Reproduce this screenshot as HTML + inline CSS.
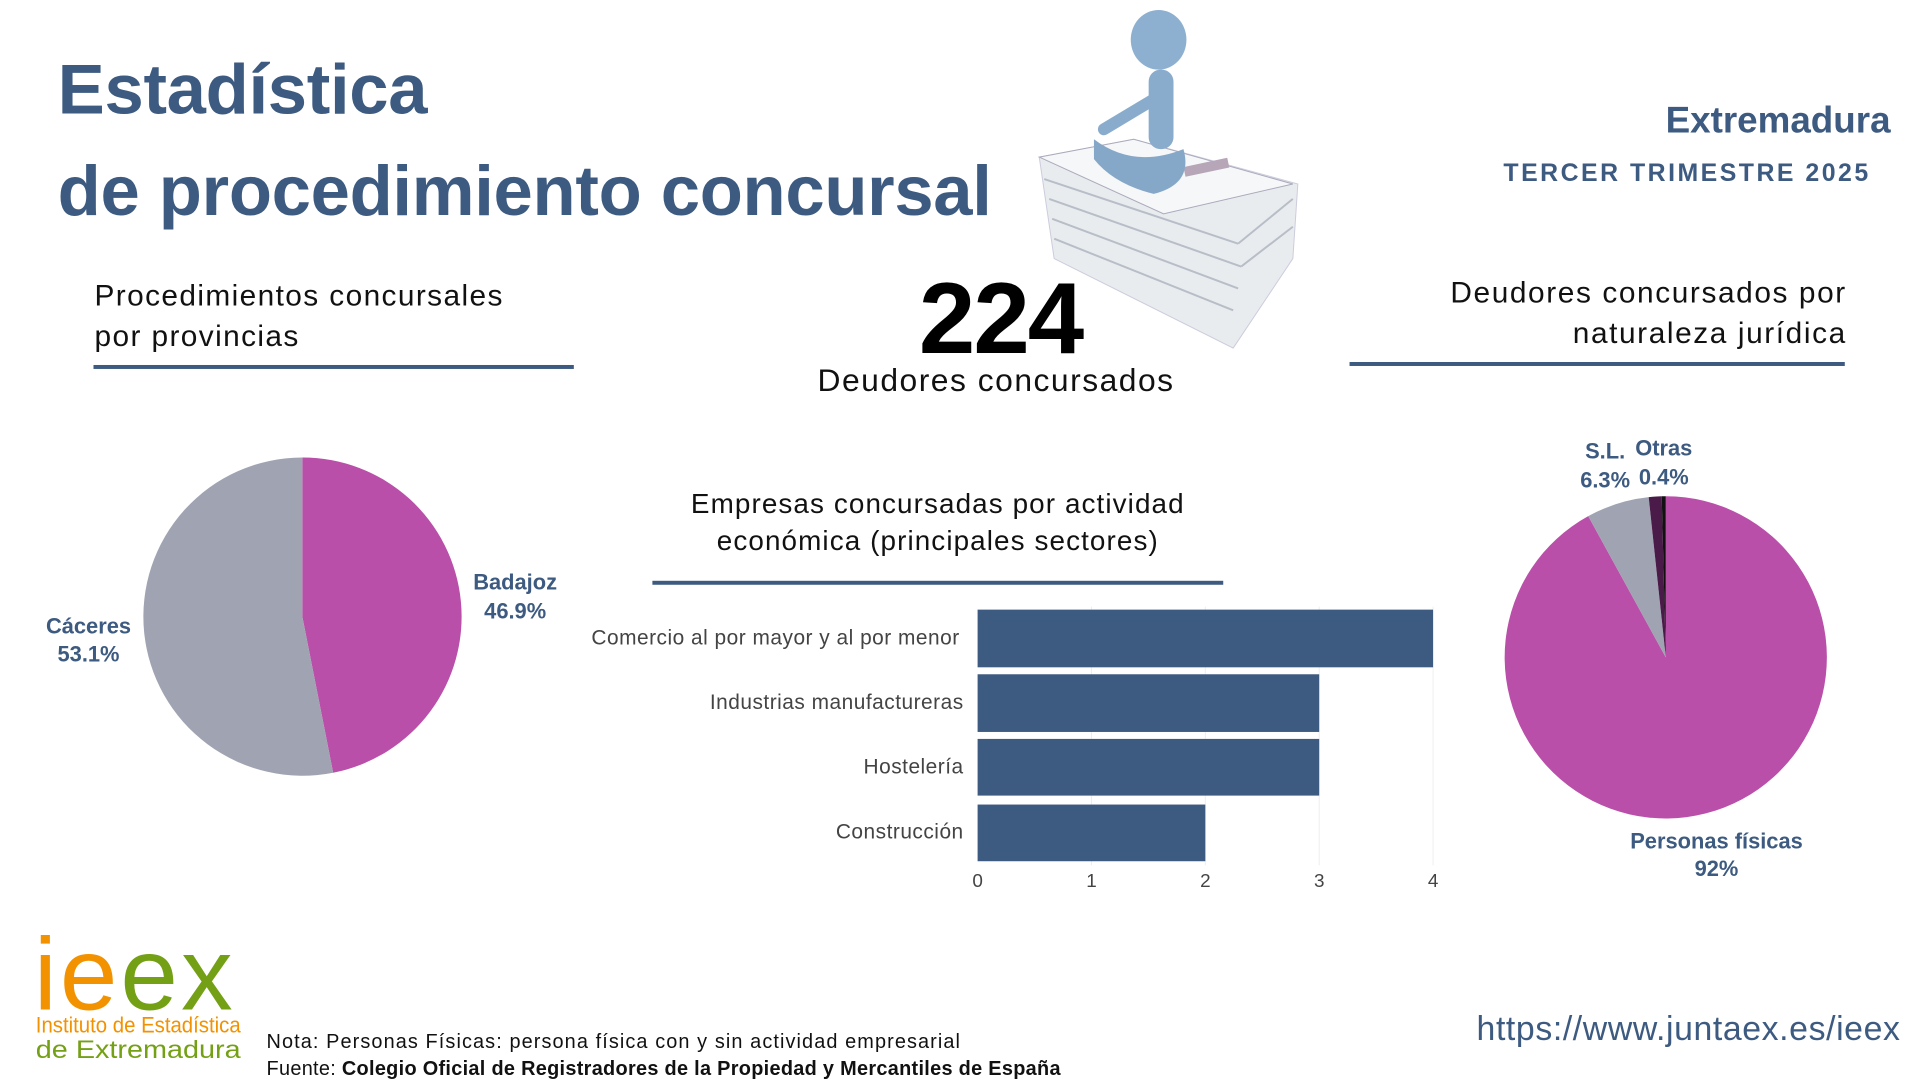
<!DOCTYPE html>
<html><head><meta charset="utf-8"><style>
body{margin:0;width:1920px;height:1080px;background:#fff;position:relative;overflow:hidden;font-family:"Liberation Sans",sans-serif;}
#w{position:absolute;left:0;top:0;width:1931px;height:1086px;transform:scale(0.9945);transform-origin:0 0;}
.a{position:absolute;white-space:nowrap;}
.t{color:#3d5a80;font-weight:bold;font-size:71px;left:58px;letter-spacing:-0.3px}
</style></head><body><div id="w">
<div class="a t" style="top:50px">Estadística</div>
<div class="a t" style="top:152px">de procedimiento concursal</div>
<div class="a" style="right:30px;top:100px;font-size:37px;font-weight:bold;color:#3d5a80">Extremadura</div>
<div class="a" style="right:50px;top:160px;font-size:25px;font-weight:bold;color:#3d5a80;letter-spacing:2.5px">TERCER TRIMESTRE 2025</div>

<div class="a" style="left:95px;top:277px;font-size:30px;letter-spacing:1.4px;line-height:41px;color:#111">Procedimientos concursales<br>por provincias</div>
<div class="a" style="left:94px;top:367px;width:483px;height:4px;background:#3d5a80"></div>

<div class="a" style="left:924px;top:262px;font-size:102px;font-weight:bold;color:#000;letter-spacing:-2px">224</div>
<div class="a" style="left:822px;top:364px;font-size:32px;letter-spacing:1.5px;color:#111">Deudores concursados</div>

<div class="a" style="right:74px;top:274px;font-size:30px;letter-spacing:1.6px;line-height:41px;color:#111;text-align:right">Deudores concursados por<br>naturaleza jurídica</div>
<div class="a" style="left:1357px;top:364px;width:498px;height:4px;background:#3d5a80"></div>

<div class="a" style="left:636px;top:488px;width:614px;font-size:28px;letter-spacing:1.1px;line-height:37px;color:#111;text-align:center">Empresas concursadas por actividad<br>económica (principales sectores)</div>
<div class="a" style="left:656px;top:584px;width:574px;height:4px;background:#3d5a80"></div>

<svg class="a" style="left:0;top:0" width="1931" height="1086">
<polygon points="1045,158 1140,140 1305,185 1300,260 1240,350 1060,260" fill="#e9ecef" stroke="#ccd" />
<g stroke="#b8bec8" stroke-width="2">
<line x1="1050" y1="180" x2="1245" y2="245"/><line x1="1055" y1="200" x2="1248" y2="268"/><line x1="1058" y1="220" x2="1245" y2="290"/><line x1="1060" y1="240" x2="1240" y2="312"/><line x1="1245" y1="245" x2="1300" y2="200"/><line x1="1248" y1="268" x2="1300" y2="228"/>
</g>
<polygon points="1045,158 1140,140 1300,185 1170,215" fill="#f6f7f9" stroke="#aab"/>
<rect x="1190" y="168" width="45" height="10" fill="#b7a5b8" transform="rotate(-12 1190 168)"/>
<ellipse cx="1165" cy="40" rx="28" ry="30" fill="#8eb0d0"/>
<rect x="1155" y="70" width="25" height="80" rx="12" fill="#8aaccc"/>
<path d="M1100,140 Q1140,170 1190,150 Q1200,185 1160,195 Q1120,185 1100,160 Z" fill="#86a8c8"/>
<path d="M1160,100 L1110,130" stroke="#8aaccc" stroke-width="12" stroke-linecap="round"/>

<path d="M304,620 L304,460 A160,160 0 0 1 335,777 Z" fill="#b94fa9"/>
<path d="M304,620 L335,777 A160,160 0 1 1 304,460 Z" fill="#a0a4b2"/>
<g font-weight="bold" font-size="22" fill="#3d5a80" text-anchor="middle">
<text x="518" y="593">Badajoz</text><text x="518" y="622">46.9%</text>
<text x="89" y="637">Cáceres</text><text x="89" y="665">53.1%</text>
</g>

<g stroke="#eee" stroke-width="1"><line x1="1097.5" y1="610" x2="1097.5" y2="870"/><line x1="1212" y1="610" x2="1212" y2="870"/><line x1="1326.5" y1="610" x2="1326.5" y2="870"/><line x1="1441" y1="610" x2="1441" y2="870"/></g>
<g fill="#3d5a80">
<rect x="983" y="613" width="458" height="58"/>
<rect x="983" y="678" width="343.5" height="58"/>
<rect x="983" y="743" width="343.5" height="57"/>
<rect x="983" y="809" width="229" height="57"/>
</g>
<g font-size="21" fill="#444" text-anchor="end" letter-spacing="0.5">
<text x="965" y="648">Comercio al por mayor y al por menor</text>
<text x="969" y="713">Industrias manufactureras</text>
<text x="969" y="778">Hostelería</text>
<text x="969" y="843">Construcción</text>
</g>
<g font-size="19" fill="#444" text-anchor="middle">
<text x="983" y="892">0</text><text x="1097.5" y="892">1</text><text x="1212" y="892">2</text><text x="1326.5" y="892">3</text><text x="1441" y="892">4</text>
</g>

<g>
<path d="M1675,661 L1675,499 A162,162 0 1 1 1597,519 Z" fill="#b94fa9"/>
<path d="M1675,661 L1597,519 A162,162 0 0 1 1657.8,499.9 Z" fill="#a0a4b2"/>
<path d="M1675,661 L1657.8,499.9 A162,162 0 0 1 1670.9,499.05 Z" fill="#4a1a48"/>
<path d="M1675,661 L1670.9,499.05 A162,162 0 0 1 1675,499 Z" fill="#111"/>
<g font-weight="bold" font-size="22" fill="#3d5a80" text-anchor="middle">
<text x="1614" y="461">S.L.</text><text x="1614" y="490">6.3%</text>
<text x="1673" y="458">Otras</text><text x="1673" y="487">0.4%</text>
<text x="1726" y="853">Personas físicas</text><text x="1726" y="881">92%</text>
</g></g>

<text x="34" y="1015" font-size="104" font-family="Liberation Sans" textLength="200" lengthAdjust="spacing"><tspan fill="#f39200">ie</tspan><tspan fill="#74a015">ex</tspan></text>
<text x="36" y="1038" font-size="22" fill="#f39200" textLength="206" lengthAdjust="spacingAndGlyphs">Instituto de Estadística</text>
<text x="36" y="1064" font-size="25" fill="#74a015" textLength="206" lengthAdjust="spacingAndGlyphs">de Extremadura</text>
</svg>

<div class="a" style="left:268px;top:1037px;font-size:20px;color:#111;letter-spacing:1.1px">Nota: Personas Físicas: persona física con y sin actividad empresarial</div>
<div class="a" style="left:268px;top:1064px;font-size:20px;color:#111;letter-spacing:0.3px">Fuente: <b>Colegio Oficial de Registradores de la Propiedad y Mercantiles de España</b></div>
<div class="a" style="right:20px;top:1016px;font-size:34px;letter-spacing:0.6px;color:#3d5a80">https://www.juntaex.es/ieex</div>
</div></body></html>
